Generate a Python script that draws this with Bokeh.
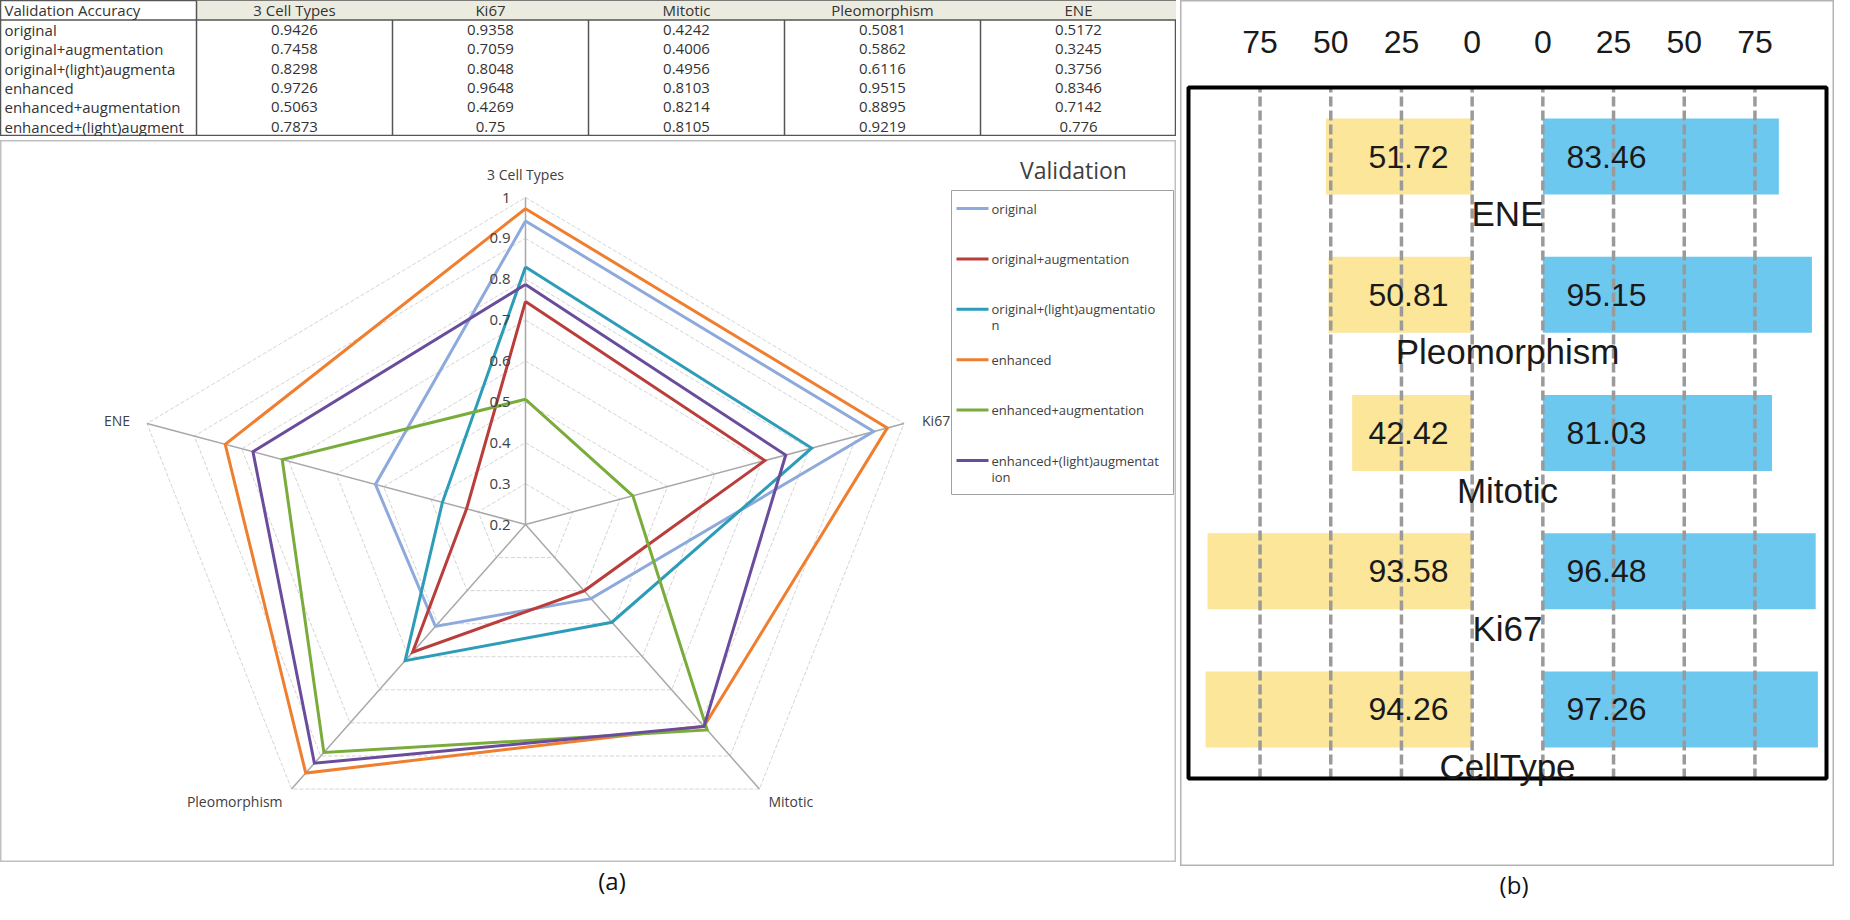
import math
from bokeh.plotting import figure
from bokeh.models import Range1d, Spacer
from bokeh.layouts import row, column
from bokeh.core.properties import value
from bokeh.embed import file_html
from bokeh.resources import INLINE

# ---------------- data : panel (a) ----------------
radar_axes = ["3 Cell Types", "Ki67", "Mitotic", "Pleomorphism", "ENE"]
series_names = ["original", "original+augmentation", "original+(light)augmentation",
                "enhanced", "enhanced+augmentation", "enhanced+(light)augmentation"]
acc_original = [0.9426, 0.9358, 0.4242, 0.5081, 0.5172]
acc_original_aug = [0.7458, 0.7059, 0.4006, 0.5862, 0.3245]
acc_original_light = [0.8298, 0.8048, 0.4956, 0.6116, 0.3756]
acc_enhanced = [0.9726, 0.9648, 0.8103, 0.9515, 0.8346]
acc_enhanced_aug = [0.5063, 0.4269, 0.8214, 0.8895, 0.7142]
acc_enhanced_light = [0.7873, 0.75, 0.8105, 0.9219, 0.776]
series_values = [acc_original, acc_original_aug, acc_original_light,
                 acc_enhanced, acc_enhanced_aug, acc_enhanced_light]
table_header = "Validation Accuracy"
table_row_labels = ["original", "original+augmentation", "original+(light)augmenta",
                    "enhanced", "enhanced+augmentation", "enhanced+(light)augment"]
legend_title = "Validation"
legend_labels = [["original"], ["original+augmentation"], ["original+(light)augmentatio", "n"],
                 ["enhanced"], ["enhanced+augmentation"], ["enhanced+(light)augmentat", "ion"]]
radar_min, radar_max = 0.2, 1.0
radar_ticks = [0.2, 0.3, 0.4, 0.5, 0.6, 0.7, 0.8, 0.9, 1.0]
radar_tick_labels = ["0.2", "0.3", "0.4", "0.5", "0.6", "0.7", "0.8", "0.9", "1"]

# ---------------- data : panel (b) ----------------
bar_categories = ["CellType", "Ki67", "Mitotic", "Pleomorphism", "ENE"]
bar_left = [94.26, 93.58, 42.42, 50.81, 51.72]
bar_right = [97.26, 96.48, 81.03, 95.15, 83.46]
bar_ticks = [0, 25, 50, 75]
bar_tick_labels = ["0", "25", "50", "75"]
panel_captions = ["(a)", "(b)"]

# ---------------- styles ----------------
series_colors = ["#8eaadc", "#b93d3b", "#2c9cb8", "#ef7e2e", "#7aac3b", "#6a4c9d"]
TFONT = value("Open Sans")
BFONT = value("Liberation Sans")
GREY_TXT = "#404040"


def bare(w, h, xr, yr, **kw):
    p = figure(width=w, height=h, x_range=xr, y_range=yr, output_backend="svg",
               toolbar_location=None, x_axis_location=None, y_axis_location=None,
               min_border=0, **kw)
    p.grid.visible = False
    p.background_fill_color = "white"
    p.border_fill_color = "white"
    return p


# ================= table =================
ncol = len(radar_axes) + 1
nrow = len(series_names) + 1
pt = bare(1176, 136, Range1d(0, ncol), Range1d(nrow, 0))
pt.outline_line_color = "#555555"
pt.outline_line_width = 1.5
pt.quad(left=[1], right=[ncol], top=[0], bottom=[1], fill_color="#ecebdf", line_color=None)
pt.segment(x0=[1], y0=[0], x1=[1], y1=[nrow], line_color="#555555", line_width=1.5)
cols = list(range(2, ncol))
pt.segment(x0=cols, y0=[1] * len(cols), x1=cols, y1=[nrow] * len(cols),
           line_color="#555555", line_width=1.5)
pt.segment(x0=[0], y0=[1], x1=[ncol], y1=[1], line_color="#555555", line_width=1.5)
TSIZE = "15px"
pt.text(x=[0], y=[0.5], text=[table_header], x_offset=4, text_align="left",
        text_baseline="middle", text_font=TFONT, text_font_size=TSIZE, text_color="#333333")
pt.text(x=[c + 1.5 for c in range(len(radar_axes))], y=[0.5] * len(radar_axes), text=radar_axes,
        text_align="center", text_baseline="middle", text_font=TFONT, text_font_size=TSIZE,
        text_color="#333333")
pt.text(x=[0] * len(table_row_labels), y=[r + 1.5 for r in range(len(table_row_labels))],
        text=table_row_labels, x_offset=4, text_align="left", text_baseline="middle",
        text_font=TFONT, text_font_size=TSIZE, text_color="#333333")
tx, ty, tt = [], [], []
for r, vals in enumerate(series_values):
    for c, v in enumerate(vals):
        tx.append(c + 1.5)
        ty.append(r + 1.5)
        tt.append(f"{v:g}")
pt.text(x=tx, y=ty, text=tt, text_align="center", text_baseline="middle",
        text_font=TFONT, text_font_size=TSIZE, text_color="#333333")

# ================= radar =================
RW, RH = 1176, 722
SX, SY = 398.0, 327.0          # px per radial unit (horizontal / vertical)
CXP, CYP = 525.0, 384.0        # centre in px from top-left of panel
pr = bare(RW, RH, Range1d(-CXP / SX, (RW - CXP) / SX), Range1d(-(RH - CYP) / SY, CYP / SY))
pr.outline_line_color = "#c0c0c0"
pr.outline_line_width = 2


def px2x(px):
    return (px - CXP) / SX


def py2y(py):
    return (CYP - py) / SY


n = len(radar_axes)
theta = [2 * math.pi * k / n for k in range(n)]


def rad(v):
    return (v - radar_min) / (radar_max - radar_min)


ring_xs, ring_ys = [], []
for v in radar_ticks[1:]:
    r = rad(v)
    ring_xs.append([r * math.sin(theta[k % n]) for k in range(n + 1)])
    ring_ys.append([r * math.cos(theta[k % n]) for k in range(n + 1)])
pr.multi_line(ring_xs, ring_ys, line_color="#d4d4d4", line_width=1, line_dash="4 2")
pr.segment(x0=[0] * n, y0=[0] * n, x1=[math.sin(t) for t in theta], y1=[math.cos(t) for t in theta],
           line_color="#a8a8a8", line_width=1.5)

for name, vals, col in zip(series_names, series_values, series_colors):
    xs = [rad(vals[k % n]) * math.sin(theta[k % n]) for k in range(n + 1)]
    ys = [rad(vals[k % n]) * math.cos(theta[k % n]) for k in range(n + 1)]
    pr.line(xs, ys, line_color=col, line_width=3, line_join="miter")

pr.text(x=[0] * len(radar_ticks), y=[rad(v) for v in radar_ticks], text=radar_tick_labels,
        x_offset=-15, text_align="right", text_baseline="middle", text_font=TFONT,
        text_font_size="15px", text_color=GREY_TXT)

lab_style = [  # (x_offset, y_offset, align) per axis label
    (0, -23, "center"), (18, -3, "left"), (9, 12, "left"), (-9, 12, "right"), (-17, -3, "right")]
for k, lab in enumerate(radar_axes):
    xo, yo, al = lab_style[k]
    pr.text(x=[math.sin(theta[k])], y=[math.cos(theta[k])], text=[lab], x_offset=xo, y_offset=yo,
            text_align=al, text_baseline="middle", text_font=TFONT, text_font_size="14px",
            text_color=GREY_TXT)

# legend (drawn by hand to reproduce the wrapped labels)
pr.text(x=[px2x(1073)], y=[py2y(29)], text=[legend_title], text_align="center",
        text_baseline="middle", text_font=TFONT, text_font_size="23px", text_color="#404040")
pr.quad(left=[px2x(951)], right=[px2x(1173)], top=[py2y(50)], bottom=[py2y(354)],
        fill_color=None, line_color="#a0a0a0", line_width=1)
for i, (lines, col) in enumerate(zip(legend_labels, series_colors)):
    yp = 68 + i * 50.4
    pr.segment(x0=[px2x(956)], y0=[py2y(yp)], x1=[px2x(988)], y1=[py2y(yp)],
               line_color=col, line_width=3)
    pr.text(x=[px2x(991)] * len(lines), y=[py2y(yp + j * 16) for j in range(len(lines))],
            text=lines, text_align="left", text_baseline="middle", text_font=TFONT,
            text_font_size="13px", text_color="#404040")

pa = bare(1176, 40, Range1d(0, 1), Range1d(0, 1))
pa.outline_line_color = None
pa.text(x=[0.52], y=[0.55], text=[panel_captions[0]], text_align="center", text_baseline="middle",
        text_font=TFONT, text_font_size="24px", text_color="#111111")

# ================= panel (b) =================
HALF = 12.5      # half gap between the two zero lines (in value units)
INSET = 22.5     # value text distance from zero line
XBOX = 112.8     # half width of the black frame (value units)
BW, BH = 654, 866
PXU = (BW - 16) / (2 * XBOX)            # px per value unit
PYU = (BH - 88 - 87) / len(bar_categories)  # px per category band
nb = len(bar_categories)
ypos = list(range(nb))
pb = bare(BW, BH, Range1d(-XBOX - 8 / PXU, XBOX + 8 / PXU),
          Range1d(-0.5 - 88 / PYU, nb - 0.5 + 87 / PYU))
pb.outline_line_color = "#b4b4b4"
pb.outline_line_width = 2

tick_pos = [-(HALF + t) for t in bar_ticks] + [HALF + t for t in bar_ticks]
tick_lab = bar_tick_labels + bar_tick_labels

pb.hbar(y=ypos, left=[-(HALF + v) for v in bar_left], right=-HALF, height=0.55,
        fill_color="#fbe69a", line_color=None)
pb.hbar(y=ypos, left=HALF, right=[HALF + v for v in bar_right], height=0.55,
        fill_color="#6dc8f0", line_color=None)
pb.segment(x0=tick_pos, y0=[-0.5] * len(tick_pos), x1=tick_pos, y1=[nb - 0.5] * len(tick_pos),
           line_color="#9a9a9a", line_width=3.5, line_dash="10 4")
pb.quad(left=[-XBOX], right=[XBOX], bottom=[-0.5], top=[nb - 0.5], fill_color=None,
        line_color="black", line_width=4)
pb.text(x=tick_pos, y=[nb - 0.5] * len(tick_pos), text=tick_lab, y_offset=-46,
        text_align="center", text_baseline="middle", text_font=BFONT, text_font_size="32px",
        text_color="#1a1a1a")
pb.text(x=[-(HALF + INSET)] * nb, y=ypos, text=[f"{v:.2f}" for v in bar_left],
        text_align="center", text_baseline="middle", text_font=BFONT, text_font_size="32px",
        text_color="#1a1a1a")
pb.text(x=[HALF + INSET] * nb, y=ypos, text=[f"{v:.2f}" for v in bar_right],
        text_align="center", text_baseline="middle", text_font=BFONT, text_font_size="32px",
        text_color="#1a1a1a")
pb.text(x=[0] * nb, y=ypos, text=bar_categories, y_offset=57, text_align="center",
        text_baseline="middle", text_font=BFONT, text_font_size="35px", text_color="#1a1a1a")

pbl = bare(654, 36, Range1d(0, 1), Range1d(0, 1))
pbl.outline_line_color = None
pbl.text(x=[0.51], y=[0.5], text=[panel_captions[1]], text_align="center", text_baseline="middle",
         text_font=TFONT, text_font_size="24px", text_color="#111111")

left_col = column(pt, Spacer(height=4), pr, pa)
right_col = column(pb, pbl)
layout = row(left_col, Spacer(width=4), right_col)

open("out.html", "w").write(file_html(layout, INLINE))
